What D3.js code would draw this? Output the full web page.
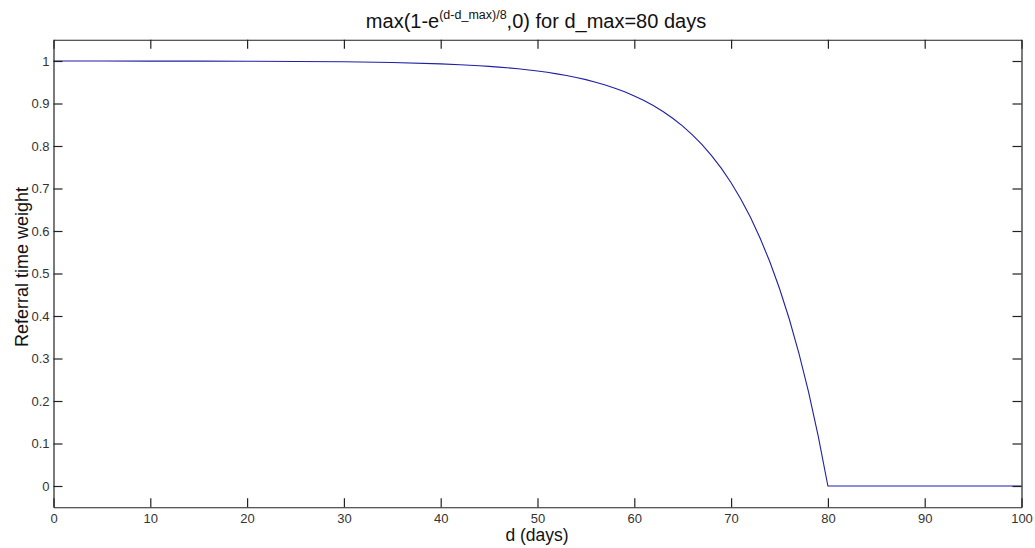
<!DOCTYPE html>
<html><head><meta charset="utf-8">
<script src="https://cdn.jsdelivr.net/npm/d3@7"></script>
<style>body{margin:0;background:#fff;} svg{display:block;font-family:"Liberation Sans",Arial,sans-serif;}</style>
</head><body>
<svg id="c" width="1035" height="548"></svg>
<script>
const days = [0,5,10,15,20,25,30,35,40,42,44,45,46,48,50,51,52,53,54,55,56,57,58,59,60,61,62,63,64,65,66,67,68,69,70,71,72,73,74,75,76,77,78,79,80,85,90,95,100];
const weights = [1.0000,0.9999,0.9998,0.9997,0.9994,0.9990,0.9981,0.9964,0.9933,0.9913,0.9889,0.9874,0.9857,0.9817,0.9765,0.9734,0.9698,0.9658,0.9612,0.9561,0.9502,0.9436,0.9361,0.9276,0.9179,0.9070,0.8946,0.8806,0.8647,0.8467,0.8262,0.8031,0.7769,0.7472,0.7135,0.6754,0.6321,0.5831,0.5276,0.4647,0.3935,0.3127,0.2212,0.1175,0,0,0,0,0];
const xTicks = [0,10,20,30,40,50,60,70,80,90,100];
const yTicks = [0,0.1,0.2,0.3,0.4,0.5,0.6,0.7,0.8,0.9,1];

const svg = d3.select("#c");
const L=53.5, R=1021.5, T=39.75, B=507.25;
const x = d3.scaleLinear().domain([0,100]).range([L,R]);
const y = d3.scaleLinear().domain([-0.05,1.05]).range([B,T]);
const tk = 9;

// line
svg.append("path")
  .datum(days.map((d,i)=>[d,weights[i]]))
  .attr("fill","none").attr("stroke","#1f1fa6").attr("stroke-width",1.1)
  .attr("d", d3.line().x(d=>x(d[0])).y(d=>y(d[1])));

// axes
const fmt = d => d3.format("~g")(d);
const gb = svg.append("g").attr("transform",`translate(0,${B})`)
  .call(d3.axisBottom(x).tickValues(xTicks).tickSizeInner(-tk).tickSizeOuter(0).tickPadding(5).tickFormat(fmt));
const gt = svg.append("g").attr("transform",`translate(0,${T})`)
  .call(d3.axisTop(x).tickValues(xTicks).tickSizeInner(-tk).tickSizeOuter(0).tickFormat(""));
const gl = svg.append("g").attr("transform",`translate(${L},0)`)
  .call(d3.axisLeft(y).tickValues(yTicks).tickSizeInner(-tk).tickSizeOuter(0).tickPadding(4).tickFormat(fmt));
const gr = svg.append("g").attr("transform",`translate(${R},0)`)
  .call(d3.axisRight(y).tickValues(yTicks).tickSizeInner(-tk).tickSizeOuter(0).tickFormat(""));
[gb,gt,gl,gr].forEach(g=>{
  g.select(".domain").attr("stroke","#222").attr("stroke-width",1.2);
  g.selectAll(".tick line").attr("stroke","#222").attr("stroke-width",1.2);
  g.selectAll(".tick text").attr("fill","#333").style("font-size","13px").style("font-family","'Liberation Sans',Arial,sans-serif");
});
gb.selectAll(".tick text").attr("dy","0.8em");

// title
const title = svg.append("text").attr("x",536).attr("y",28).attr("text-anchor","middle")
  .style("font-size","20px").attr("fill","#111");
title.append("tspan").text("max(1-e");
title.append("tspan").attr("dy",-9).style("font-size","12.5px").text("(d-d_max)/8");
title.append("tspan").attr("dy",9).text(",0) for d_max=80 days");

// axis labels
svg.append("text").attr("x",537).attr("y",541).attr("text-anchor","middle")
  .style("font-size","17.5px").attr("fill","#111").text("d (days)");
svg.append("text").attr("transform","translate(28,267) rotate(-90)").attr("text-anchor","middle")
  .style("font-size","18px").attr("fill","#111").text("Referral time weight");
</script>
</body></html>
